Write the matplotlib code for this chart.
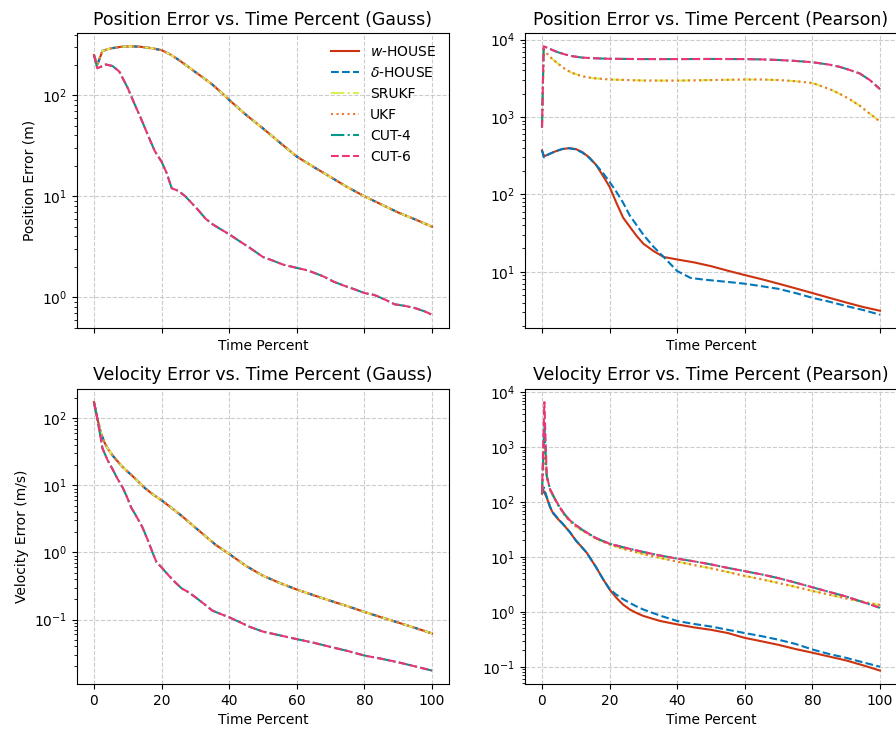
import matplotlib
matplotlib.use("Agg")
import matplotlib.pyplot as plt

# ---- data (percent of time, error values) ----
# Gauss, position: the four HOUSE/UKF filters overlap, CUT-4/CUT-6 overlap
gp_hi_x = [0, 1, 2.5, 5, 8, 11, 14, 17, 20, 22.5, 25, 27.5, 30, 32.5, 35,
           37.5, 40, 45, 50, 55, 60, 65, 70, 75, 80, 85, 90, 95, 100]
gp_hi_y = [250, 200, 275, 292, 302, 306, 302, 293, 280, 255, 225, 196, 170,
           148, 128, 108, 90, 64, 47, 34, 24.7, 19.5, 15.5, 12.3, 10, 8.3,
           6.9, 5.9, 5.0]
gp_lo_x = [0, 1, 3.5, 5.5, 7.5, 10, 12, 14, 16, 18, 20, 21.5, 23, 25, 27, 29,
           31, 33, 35, 38, 40, 43, 46, 50, 53, 56, 60, 63, 65, 68, 71, 74, 77,
           80, 83, 86, 89, 92, 95, 98, 100]
gp_lo_y = [250, 185, 202, 195, 172, 118, 82, 58, 40, 28, 22, 17, 12, 11.3,
           10, 8.5, 7.2, 6.0, 5.3, 4.6, 4.2, 3.6, 3.1, 2.5, 2.3, 2.1, 1.95,
           1.85, 1.75, 1.6, 1.42, 1.3, 1.2, 1.1, 1.05, 0.95, 0.85, 0.82, 0.78,
           0.72, 0.67]

# Gauss, velocity
gv_hi_x = [0, 1, 2, 3, 4, 5.5, 8, 10, 12.5, 15, 17.5, 20, 23, 26, 30, 33, 36,
           40, 45, 50, 55, 60, 65, 70, 75, 80, 85, 90, 95, 100]
gv_hi_y = [175, 100, 62, 45, 36, 28, 20, 16, 12.3, 9.2, 7.3, 6.0, 4.6, 3.5,
           2.35, 1.75, 1.3, 0.95, 0.63, 0.45, 0.35, 0.28, 0.23, 0.19, 0.158,
           0.13, 0.108, 0.09, 0.075, 0.062]
gv_lo_x = [0, 1, 2.5, 4, 5.5, 7, 8.5, 10, 11, 12.5, 14.3, 16, 17.5, 18.5, 20,
           22, 24, 26, 28, 30, 32, 35, 38, 40, 43, 46, 50, 55, 60, 65, 70, 75,
           80, 85, 90, 95, 100]
gv_lo_y = [175, 100, 36, 24, 17.5, 12.5, 9.3, 6.3, 4.7, 3.5, 2.4, 1.5, 0.95,
           0.72, 0.6, 0.46, 0.36, 0.29, 0.255, 0.215, 0.18, 0.136, 0.118,
           0.108, 0.092, 0.078, 0.066, 0.058, 0.051, 0.045, 0.039, 0.034,
           0.029, 0.026, 0.023, 0.020, 0.0173]

# Pearson, position
pp_x = [0, 0.5, 2, 3.5, 5, 7, 9, 12, 15, 20, 30, 40, 50, 60, 65, 70, 75, 80,
        85, 88, 91, 94, 97, 100]
pp_cut_y = [730, 8200, 7700, 7200, 6800, 6400, 6100, 5850, 5750, 5650, 5600,
            5600, 5620, 5600, 5550, 5450, 5300, 5100, 4750, 4450, 4050, 3650,
            3000, 2290]
pp_ukf_y = [730, 7450, 6200, 5400, 4800, 4100, 3700, 3350, 3180, 3050, 2960,
            2950, 3000, 3050, 3050, 3000, 2900, 2750, 2300, 2000, 1700, 1400,
            1100, 870]
pp_w_x = [0, 0.6, 2, 4, 6, 8, 10, 12, 14, 16, 18, 20, 22, 24, 26, 28, 30, 33,
          36, 40, 45, 50, 55, 60, 65, 70, 75, 80, 85, 90, 95, 100]
pp_w_y = [370, 310, 330, 360, 385, 395, 385, 350, 300, 240, 175, 125, 78, 50,
          38, 29, 23, 18.5, 15.5, 14.4, 13.2, 11.8, 10.3, 9.05, 8.0, 7.0, 6.1,
          5.3, 4.6, 4.0, 3.5, 3.13]
pp_d_x = [0, 0.6, 2, 4, 6, 8, 10, 12, 14, 16, 18, 20, 22, 24, 26, 28, 30, 33,
          36, 40, 44, 48, 52, 56, 60, 65, 70, 75, 80, 85, 90, 95, 100]
pp_d_y = [370, 300, 330, 360, 385, 395, 380, 345, 295, 240, 190, 145, 108, 78,
          53, 40, 30, 21, 15.5, 10.2, 8.3, 7.9, 7.6, 7.3, 7.0, 6.5, 6.0, 5.3,
          4.6, 4.1, 3.6, 3.2, 2.78]

# Pearson, velocity
pv_x = [0, 0.7, 1.4, 2.4, 3.8, 5, 6.5, 8, 10, 12, 16, 20, 25, 30, 35, 40, 45,
        50, 55, 60, 65, 70, 75, 80, 85, 90, 95, 100]
pv_c6_y = [150, 6600, 300, 170, 115, 85, 62, 48, 38, 31, 22, 17.4, 14.5,
           12.3, 10.6, 9.3, 8.3, 7.3, 6.3, 5.5, 4.8, 4.1, 3.4, 2.8, 2.3, 1.9,
           1.5, 1.18]
pv_c4_y = [150, 2500, 300, 170, 115, 85, 62, 48, 38, 31, 22, 17.4, 14.5,
           12.3, 10.6, 9.3, 8.3, 7.3, 6.3, 5.5, 4.8, 4.1, 3.4, 2.8, 2.3, 1.9,
           1.5, 1.18]
pv_ukf_y = [150, 1000, 290, 165, 112, 83, 60, 46, 36, 30, 21.5, 16.8, 13.5,
            11.3, 9.6, 8.2, 7.1, 6.2, 5.3, 4.5, 3.9, 3.35, 2.85, 2.4, 2.05,
            1.75, 1.52, 1.33]
pv_h_x = [0, 0.5, 1.4, 2.4, 3.3, 5, 6.3, 8.3, 10, 13.2, 16, 18, 20, 22, 24,
          26, 28, 30, 35, 40, 45, 50, 55, 60, 65, 70, 75, 80, 85, 90, 95, 100]
pv_w_y = [142, 160, 120, 80, 62, 47, 39, 28, 20, 12, 6.5, 4.0, 2.55, 1.8,
          1.35, 1.1, 0.95, 0.84, 0.68, 0.59, 0.52, 0.47, 0.41, 0.335, 0.29,
          0.25, 0.21, 0.18, 0.153, 0.13, 0.106, 0.085]
pv_d_y = [142, 185, 125, 82, 64, 48, 39, 28, 20, 12, 6.5, 4.0, 2.6, 2.05,
          1.7, 1.45, 1.25, 1.1, 0.85, 0.68, 0.6, 0.54, 0.47, 0.41, 0.36, 0.31,
          0.26, 0.206, 0.17, 0.145, 0.12, 0.1]

filters = ["$w$-HOUSE", "$\\delta$-HOUSE", "SRUKF", "UKF", "CUT-4", "CUT-6"]
colors = ["#CC3311", "#0077BB", "#DDEE55", "#EE7733", "#009988", "#EE3377"]
styles = ["-", "--", "-.", ":", "-.", "--"]

panels = [
    ("Position Error vs. Time Percent (Gauss)", "Position Error (m)",
     [(gp_hi_x, gp_hi_y), (gp_hi_x, gp_hi_y), (gp_hi_x, gp_hi_y),
      (gp_hi_x, gp_hi_y), (gp_lo_x, gp_lo_y), (gp_lo_x, gp_lo_y)]),
    ("Position Error vs. Time Percent (Pearson)", None,
     [(pp_w_x, pp_w_y), (pp_d_x, pp_d_y), (pp_x, pp_ukf_y),
      (pp_x, pp_ukf_y), (pp_x, pp_cut_y), (pp_x, pp_cut_y)]),
    ("Velocity Error vs. Time Percent (Gauss)", "Velocity Error (m/s)",
     [(gv_hi_x, gv_hi_y), (gv_hi_x, gv_hi_y), (gv_hi_x, gv_hi_y),
      (gv_hi_x, gv_hi_y), (gv_lo_x, gv_lo_y), (gv_lo_x, gv_lo_y)]),
    ("Velocity Error vs. Time Percent (Pearson)", None,
     [(pv_h_x, pv_w_y), (pv_h_x, pv_d_y), (pv_x, pv_ukf_y),
      (pv_x, pv_ukf_y), (pv_x, pv_c4_y), (pv_x, pv_c6_y)]),
]

fig, axes = plt.subplots(2, 2, figsize=(8.96, 7.3), dpi=100, sharex=True)
fig.subplots_adjust(left=0.086, right=1.001, bottom=0.063, top=0.955,
                    wspace=0.205, hspace=0.205)

for ax, (title, ylabel, series) in zip(axes.flat, panels):
    for name, c, ls, (x, y) in zip(filters, colors, styles, series):
        ax.plot(x, y, color=c, linestyle=ls, linewidth=1.5, label=name)
    ax.set_yscale("log")
    ax.set_title(title, fontsize=12.5)
    ax.set_xlabel("Time Percent")
    if ylabel:
        ax.set_ylabel(ylabel)
    ax.grid(True, linestyle="--", color="#cccccc", linewidth=0.8)
    ax.tick_params(labelbottom=True)

for ax in axes[0]:
    ax.tick_params(labelbottom=False)

axes[0, 0].legend(loc="upper right", frameon=False)

fig.savefig("out.png", dpi=100)
